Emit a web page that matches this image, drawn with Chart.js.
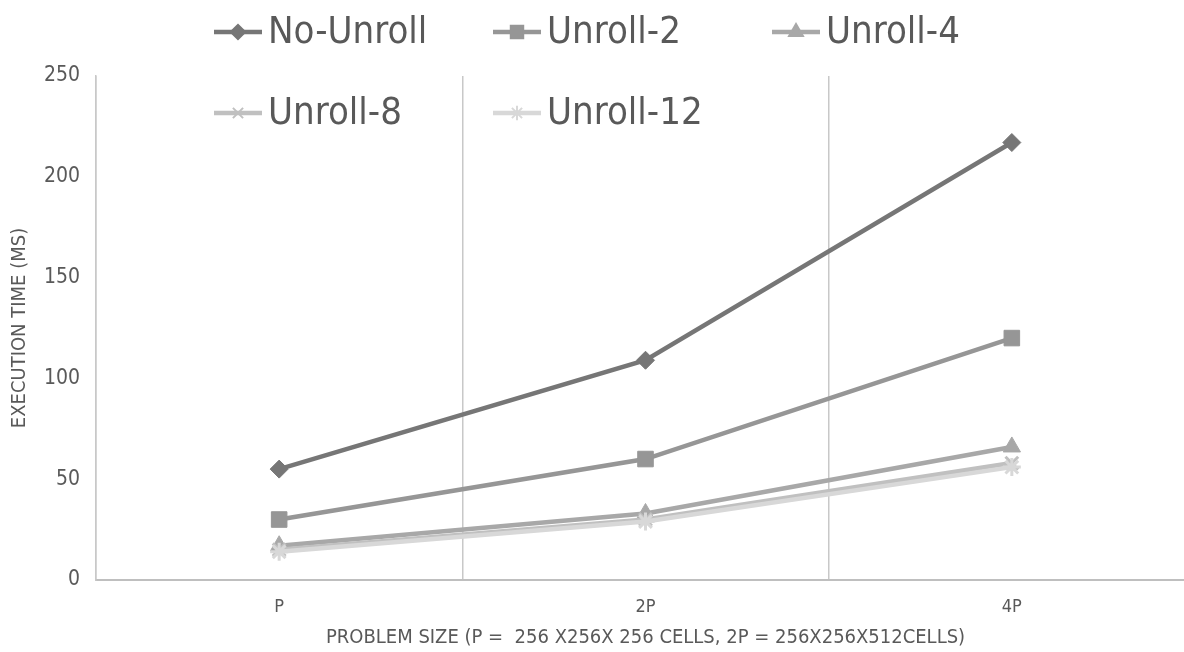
<!DOCTYPE html>
<html>
<head>
<meta charset="utf-8">
<script src="https://cdn.jsdelivr.net/npm/chart.js@4/dist/chart.umd.min.js"></script>
<style>
  html, body { margin: 0; padding: 0; background: #fff; overflow: hidden; }
  #wrap { width: 1207px; height: 652px; }
</style>
</head>
<body>
<div id="wrap"><canvas id="chart-exec" width="1207" height="652"></canvas></div>
<script>
// values
const sizes = ['P', '2P', '4P'];
const noUnroll = [55, 109, 217];
const unroll2 = [30, 60, 120];
const unroll4 = [17, 33, 66];
const unroll8 = [15, 30, 58];
const unroll12 = [14, 29, 56];
const yTicks = [0, 50, 100, 150, 200, 250];

const FONT = '"Liberation Sans Narrow", "DejaVu Sans Condensed", "Roboto Condensed", sans-serif';
const TXT = '#595959';

function series(label, data, color, style, radius, order) {
  return {
    label: label,
    data: data,
    borderColor: color,
    backgroundColor: color,
    pointBackgroundColor: color,
    pointBorderColor: color,
    borderWidth: 4.5,
    pointStyle: style,
    pointRadius: radius,
    pointHoverRadius: radius,
    pointBorderWidth: style === 'crossRot' || style === 'star' ? 3 : 1,
    tension: 0,
    order: order
  };
}

const datasets = [
  series('No-Unroll', noUnroll, '#767676', 'rectRot', 9, 5),
  series('Unroll-2', unroll2, '#969696', 'rect', 11, 4),
  series('Unroll-4', unroll4, '#a8a8a8', 'triangle', 10, 3),
  series('Unroll-8', unroll8, '#c0c0c0', 'crossRot', 9, 2),
  series('Unroll-12', unroll12, '#d8d8d8', 'star', 9, 1)
];

// legend drawn by hand: it sits partly over the plot like the original
const legendPlugin = {
  id: 'sheetLegend',
  afterDraw(chart) {
    const ctx = chart.ctx;
    const spots = [[214, 32], [493, 32], [772, 32], [214, 113], [493, 113]];
    chart.data.datasets.forEach((ds, i) => {
      const [x, y] = spots[i];
      ctx.save();
      ctx.strokeStyle = ds.borderColor;
      ctx.lineWidth = 4.5;
      ctx.beginPath();
      ctx.moveTo(x, y);
      ctx.lineTo(x + 48, y);
      ctx.stroke();
      ctx.fillStyle = ds.borderColor;
      ctx.lineWidth = 2;
      Chart.helpers.drawPoint(ctx, {
        pointStyle: ds.pointStyle,
        radius: ds.pointRadius * 0.8,
        rotation: 0,
        borderWidth: ds.pointBorderWidth
      }, x + 24, y);
      ctx.fillStyle = TXT;
      ctx.font = '38px ' + FONT;
      ctx.textBaseline = 'middle';
      ctx.fillText(ds.label, x + 54, y + 1);
      ctx.restore();
    });
  }
};

const ctx = document.getElementById('chart-exec').getContext('2d');
new Chart(ctx, {
  type: 'line',
  data: { labels: sizes, datasets: datasets },
  options: {
    responsive: false,
    animation: false,
    layout: { padding: { top: 76, right: 0, left: 0, bottom: 0 } },
    plugins: { legend: { display: false }, tooltip: { enabled: false } },
    scales: {
      x: {
        offset: true,
        grid: { display: true, offset: true, color: '#c8c8c8', lineWidth: 1.5, drawTicks: false },
        border: { display: true, color: '#bfbfbf', width: 2 },
        ticks: { color: TXT, font: { family: FONT, size: 18 }, padding: 17 },
        title: {
          display: true,
          text: 'PROBLEM SIZE (P =  256 X256X 256 CELLS, 2P = 256X256X512CELLS)',
          color: TXT,
          font: { family: FONT, size: 20 },
          padding: { top: 0, bottom: 2 }
        },
        afterFit(scale) { scale.height = 72; }
      },
      y: {
        min: 0,
        max: 250,
        afterBuildTicks(scale) { scale.ticks = yTicks.map(v => ({ value: v })); },
        grid: { display: false, drawTicks: false },
        border: { display: true, color: '#c8c8c8', width: 1.5 },
        ticks: { color: TXT, font: { family: FONT, size: 21 }, padding: 16 },
        title: {
          display: true,
          text: 'EXECUTION TIME (MS)',
          color: TXT,
          font: { family: FONT, size: 20 },
          padding: { top: 8, bottom: 0 }
        },
        afterFit(scale) { scale.width = 96; }
      }
    }
  },
  plugins: [legendPlugin]
});
</script>
</body>
</html>
